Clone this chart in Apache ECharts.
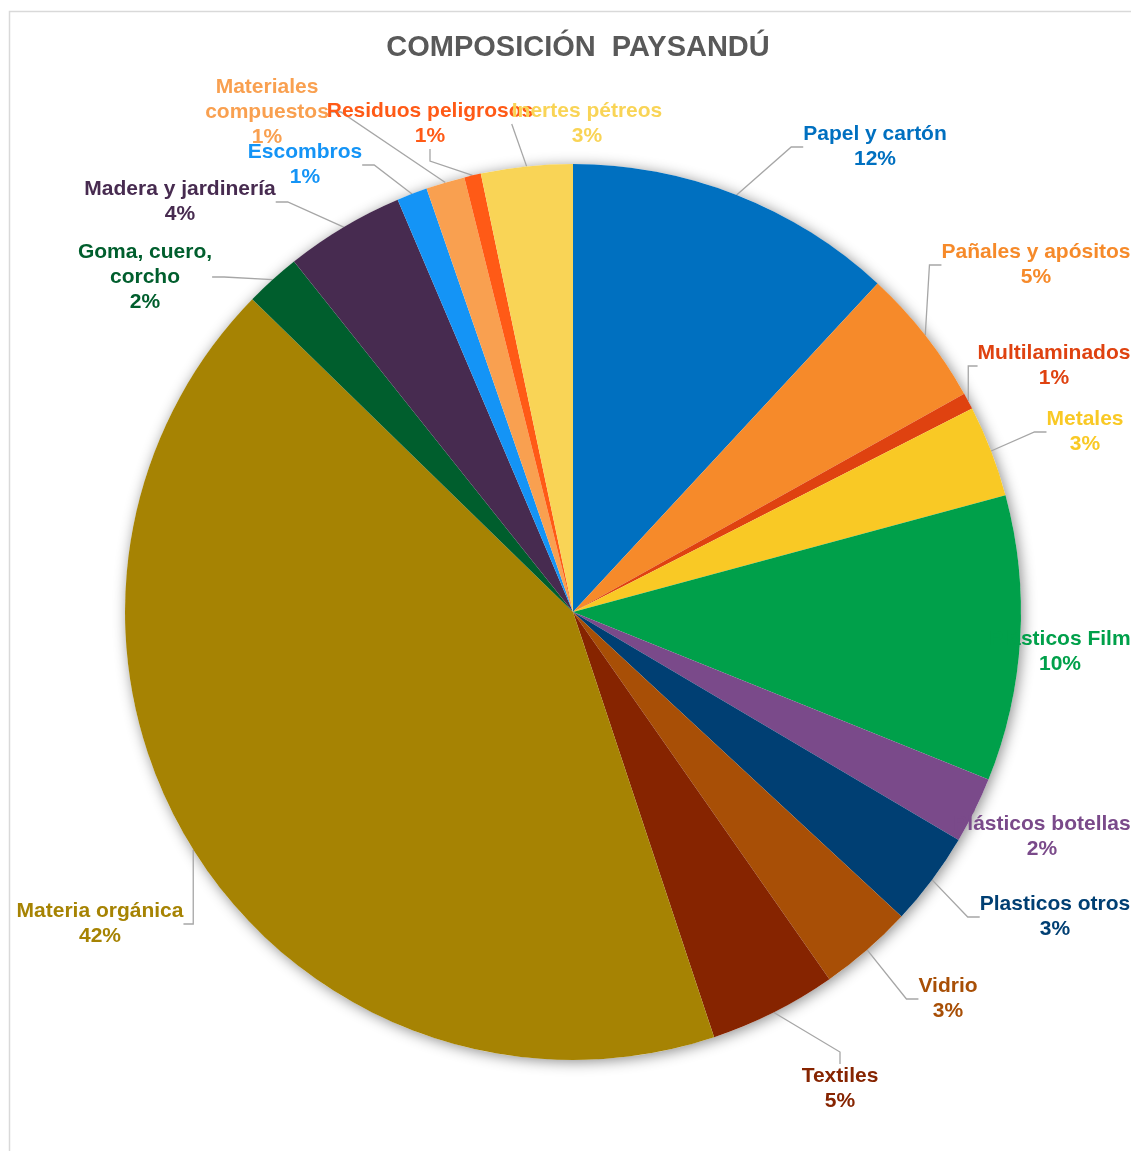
<!DOCTYPE html>
<html>
<head>
<meta charset="utf-8">
<script src="https://cdn.jsdelivr.net/npm/echarts@6/dist/echarts.min.js"></script>
<style>html,body{margin:0;padding:0;background:#fff;}#c{width:1131px;height:1151px;}</style>
</head>
<body>
<div id="c"></div>
<script>
const categories = ['Papel y cartón','Pañales y apósitos','Multilaminados','Metales','Plásticos Film','Plásticos botellas','Plasticos otros','Vidrio','Textiles','Materia orgánica','Goma, cuero,\ncorcho','Madera y jardinería','Escombros','Materiales\ncompuestos','Residuos peligrosos','Inertes pétreos'];
const values = [11.9, 5.0, 0.6, 3.3, 10.3, 2.4, 3.4, 3.4, 4.6, 42.4, 2.0, 4.3, 1.1, 1.4, 0.6, 3.3];
const colors = ['#0070C0','#F68A2A','#DF4210','#F9C925','#00A04A','#7A4A8A','#003F73','#A84F06','#862400','#A68303','#005E2D','#472B50','#1494F6','#F9A050','#FF5A16','#F9D456'];
const titleText = 'COMPOSICIÓN  PAYSANDÚ';
// label block centres (text annotations, Excel-like placement)
const labelCenters = [[875,147],[1036,265],[1054,366],[1085,432],[1060,652],[1042,837],[1055,917],[948,999],[840,1089],[100,924],[145,277],[180,202],[305,165],[267,112],[430,124],[587,124]];

const FONT = 'Liberation Sans, Arial, sans-serif';
const chart = echarts.init(document.getElementById('c'));
const total = values.reduce((a,b)=>a+b,0);
const data = categories.map((n,i)=>({
  name:n, value:values[i],
  itemStyle:{color:colors[i]},
  label:{color:colors[i]}
}));
chart.setOption({
  animation:false,
  backgroundColor:'#fff',
  textStyle:{fontFamily:FONT},
  graphic:[{type:'rect',left:7,top:9,shape:{width:1300,height:1300},style:{fill:'none',stroke:'#D9D9D9',lineWidth:1.5},silent:true,z:-10}],
  title:{text:titleText,left:573,textAlign:'center',top:28,textStyle:{fontSize:29,fontWeight:'bold',color:'#595959',fontFamily:FONT}},
  series:[
    {type:'pie',center:[573,612],radius:448,silent:true,z:1,label:{show:false},labelLine:{show:false},
     data:[{value:total,itemStyle:{color:'#fff',shadowBlur:14,shadowColor:'rgba(0,0,0,0.45)',shadowOffsetX:2,shadowOffsetY:2}}]},
    {type:'pie',center:[573,612],radius:448,startAngle:90,clockwise:true,z:2,
     avoidLabelOverlap:false,
     label:{show:true,position:'outside',fontSize:21,fontWeight:'bold',lineHeight:25,overflow:'none',
       formatter:p=>p.name.split('\n').map(s=>'{n|'+s+'}').join('\n')+'\n{n|'+Math.round(p.value)+'%}',
       rich:{n:{align:'center',fontSize:21,fontWeight:'bold',lineHeight:25,fontFamily:FONT}}},
     labelLine:{show:true,length:25,length2:12,lineStyle:{color:'#A6A6A6',width:1.3}},
     labelLayout:p=>{
       const c = labelCenters[p.dataIndex];
       return {x:c[0],y:c[1],align:'center',verticalAlign:'middle',hideOverlap:false,moveOverlap:false};
     },
     itemStyle:{borderWidth:0},
     data:data}
  ]
});
</script>
</body>
</html>
